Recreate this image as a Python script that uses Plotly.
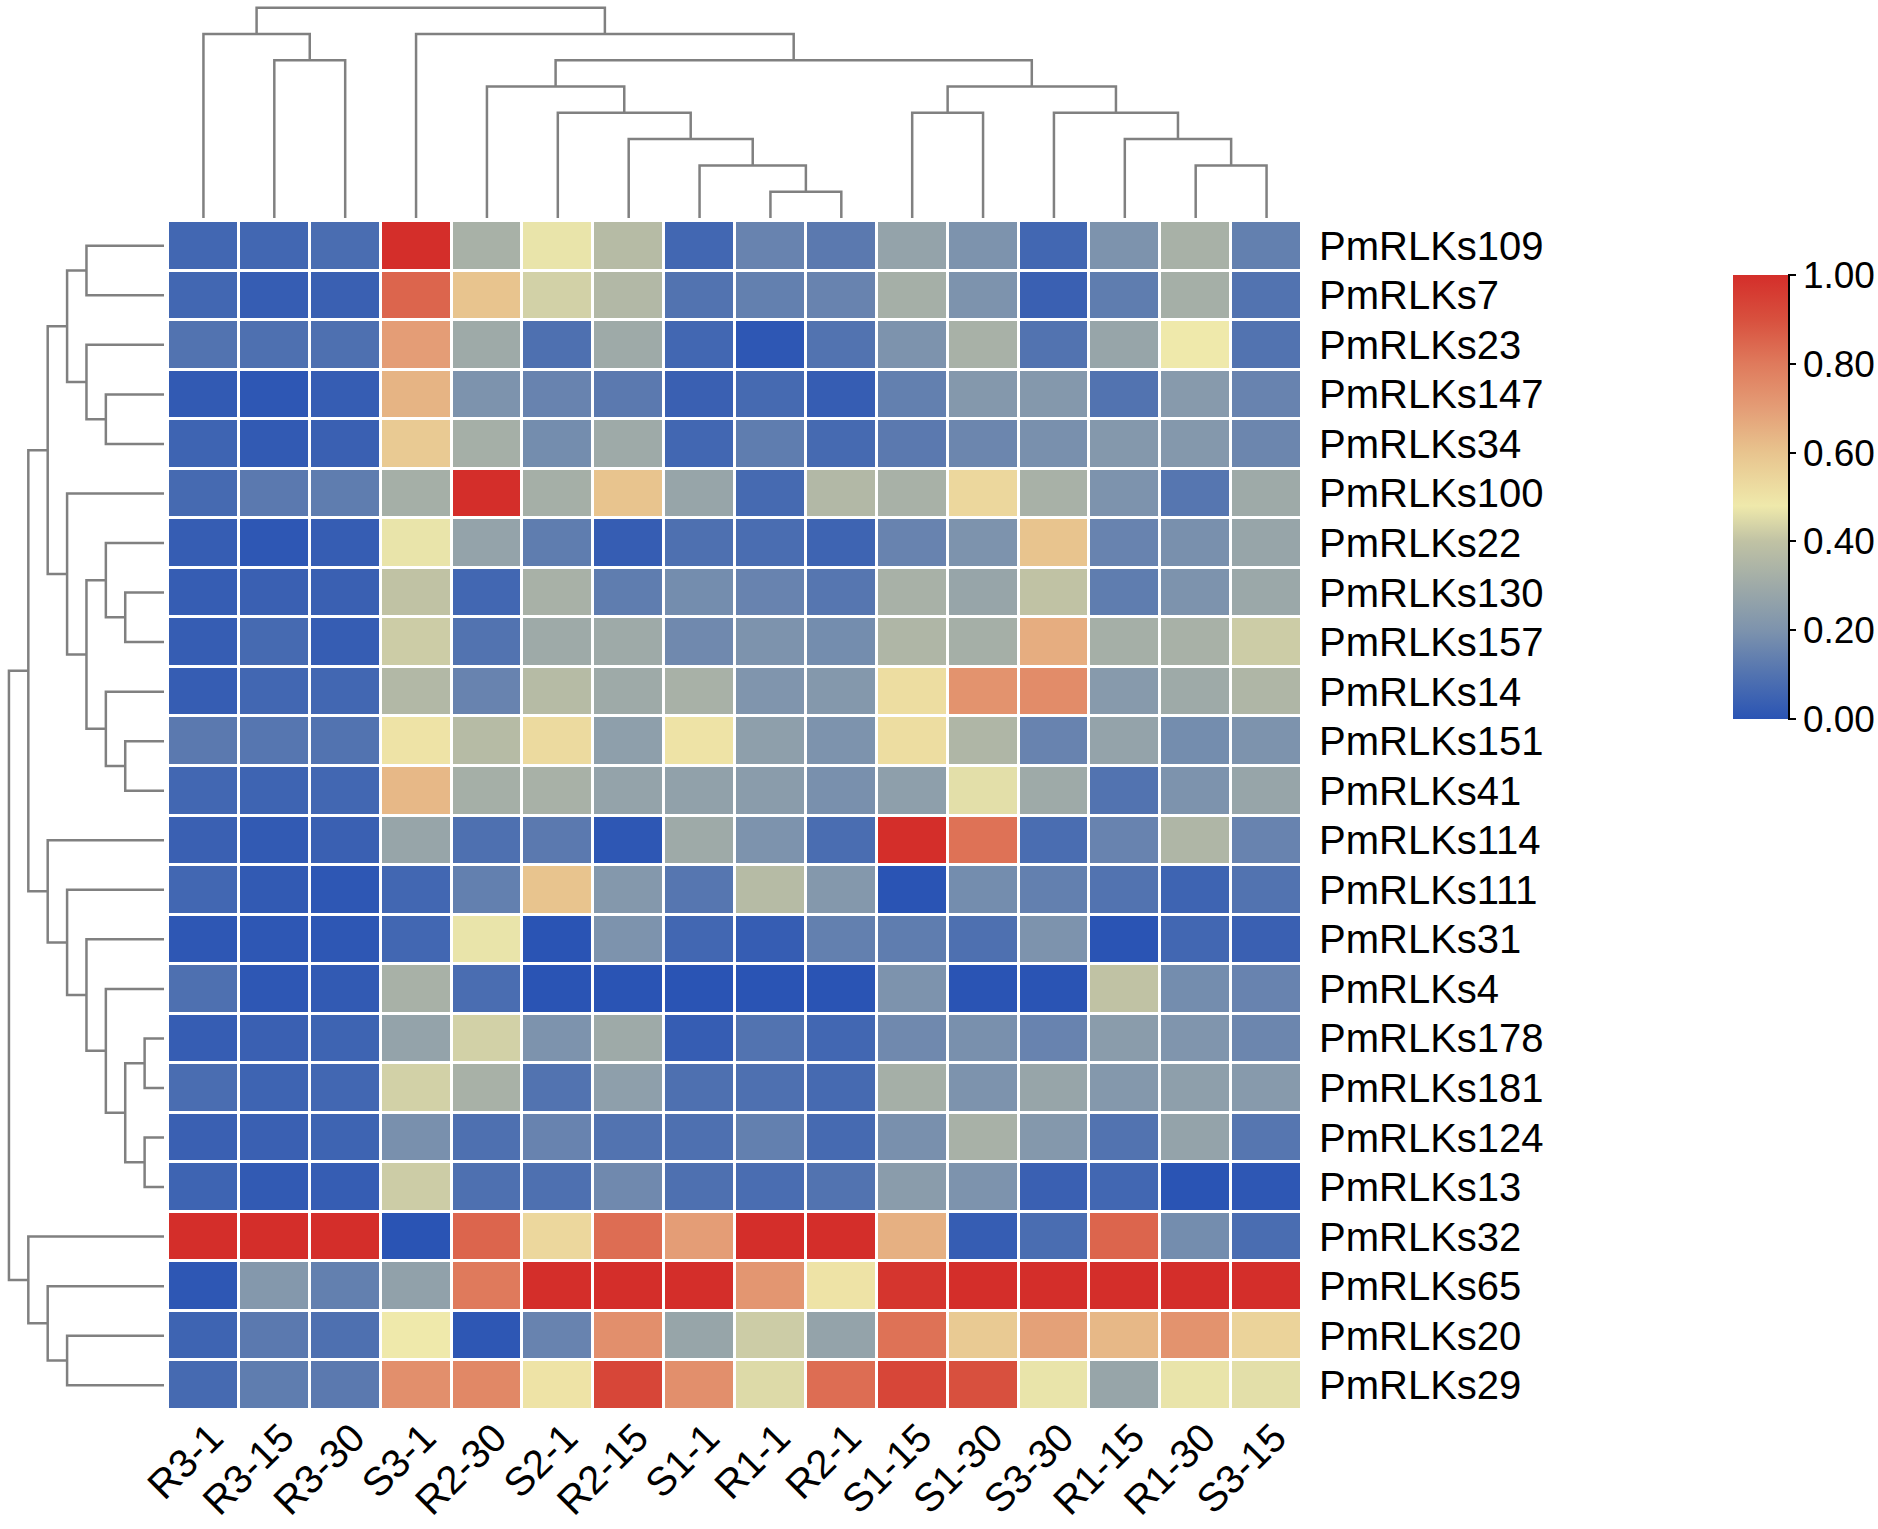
import plotly.graph_objects as go

# column and row order as in the clustered heatmap
samples = ['R3-1', 'R3-15', 'R3-30', 'S3-1', 'R2-30', 'S2-1', 'R2-15', 'S1-1',
           'R1-1', 'R2-1', 'S1-15', 'S1-30', 'S3-30', 'R1-15', 'R1-30', 'S3-15']

genes = ['PmRLKs109', 'PmRLKs7', 'PmRLKs23', 'PmRLKs147', 'PmRLKs34', 'PmRLKs100',
         'PmRLKs22', 'PmRLKs130', 'PmRLKs157', 'PmRLKs14', 'PmRLKs151', 'PmRLKs41',
         'PmRLKs114', 'PmRLKs111', 'PmRLKs31', 'PmRLKs4', 'PmRLKs178', 'PmRLKs181',
         'PmRLKs124', 'PmRLKs13', 'PmRLKs32', 'PmRLKs65', 'PmRLKs20', 'PmRLKs29']

# normalised expression, one row per gene
values = [
    [0.06, 0.06, 0.08, 1.00, 0.33, 0.47, 0.37, 0.06, 0.15, 0.12, 0.27, 0.20, 0.06, 0.20, 0.33, 0.14],
    [0.06, 0.03, 0.04, 0.85, 0.60, 0.43, 0.36, 0.10, 0.14, 0.15, 0.32, 0.20, 0.04, 0.13, 0.32, 0.10],
    [0.10, 0.09, 0.09, 0.70, 0.30, 0.09, 0.30, 0.06, 0.01, 0.10, 0.20, 0.33, 0.10, 0.28, 0.48, 0.10],
    [0.02, 0.01, 0.03, 0.64, 0.20, 0.15, 0.12, 0.04, 0.07, 0.03, 0.14, 0.22, 0.22, 0.10, 0.23, 0.15],
    [0.05, 0.02, 0.04, 0.58, 0.32, 0.18, 0.30, 0.06, 0.13, 0.07, 0.12, 0.16, 0.19, 0.22, 0.22, 0.16],
    [0.07, 0.12, 0.13, 0.32, 1.00, 0.32, 0.60, 0.28, 0.07, 0.36, 0.33, 0.54, 0.33, 0.20, 0.11, 0.30],
    [0.03, 0.01, 0.03, 0.47, 0.27, 0.13, 0.03, 0.09, 0.08, 0.05, 0.15, 0.20, 0.60, 0.15, 0.19, 0.28],
    [0.03, 0.04, 0.04, 0.40, 0.06, 0.33, 0.13, 0.18, 0.15, 0.11, 0.33, 0.28, 0.40, 0.13, 0.20, 0.29],
    [0.03, 0.07, 0.03, 0.42, 0.10, 0.30, 0.30, 0.17, 0.20, 0.18, 0.35, 0.32, 0.66, 0.32, 0.33, 0.42],
    [0.03, 0.06, 0.06, 0.36, 0.15, 0.37, 0.30, 0.33, 0.21, 0.22, 0.52, 0.73, 0.75, 0.23, 0.30, 0.35],
    [0.12, 0.11, 0.10, 0.50, 0.37, 0.53, 0.25, 0.50, 0.25, 0.20, 0.52, 0.35, 0.15, 0.27, 0.18, 0.20],
    [0.06, 0.05, 0.06, 0.63, 0.32, 0.33, 0.27, 0.26, 0.24, 0.19, 0.25, 0.46, 0.30, 0.10, 0.20, 0.28],
    [0.04, 0.02, 0.04, 0.28, 0.09, 0.12, 0.01, 0.30, 0.20, 0.08, 1.00, 0.82, 0.08, 0.15, 0.35, 0.15],
    [0.06, 0.02, 0.01, 0.06, 0.14, 0.60, 0.22, 0.11, 0.37, 0.22, 0.00, 0.18, 0.14, 0.10, 0.05, 0.10],
    [0.01, 0.01, 0.01, 0.06, 0.47, 0.00, 0.20, 0.06, 0.03, 0.14, 0.13, 0.09, 0.20, 0.00, 0.06, 0.04],
    [0.09, 0.01, 0.02, 0.33, 0.08, 0.00, 0.00, 0.00, 0.00, 0.00, 0.20, 0.00, 0.00, 0.40, 0.18, 0.15],
    [0.03, 0.04, 0.05, 0.27, 0.43, 0.20, 0.30, 0.03, 0.10, 0.06, 0.17, 0.19, 0.15, 0.24, 0.21, 0.16],
    [0.08, 0.05, 0.06, 0.43, 0.33, 0.10, 0.25, 0.09, 0.09, 0.07, 0.32, 0.20, 0.28, 0.22, 0.25, 0.23],
    [0.04, 0.04, 0.05, 0.19, 0.09, 0.15, 0.10, 0.09, 0.14, 0.07, 0.19, 0.33, 0.22, 0.10, 0.27, 0.11],
    [0.05, 0.02, 0.03, 0.42, 0.09, 0.09, 0.17, 0.09, 0.08, 0.10, 0.24, 0.20, 0.04, 0.06, 0.00, 0.01],
    [1.00, 1.00, 1.00, 0.00, 0.85, 0.54, 0.83, 0.70, 1.00, 1.00, 0.65, 0.03, 0.08, 0.85, 0.18, 0.08],
    [0.01, 0.22, 0.14, 0.26, 0.80, 1.00, 1.00, 1.00, 0.72, 0.50, 0.98, 1.00, 1.00, 1.00, 1.00, 1.00],
    [0.05, 0.12, 0.09, 0.48, 0.01, 0.15, 0.74, 0.28, 0.42, 0.27, 0.82, 0.58, 0.69, 0.63, 0.73, 0.55],
    [0.07, 0.13, 0.12, 0.74, 0.76, 0.50, 0.93, 0.74, 0.45, 0.83, 0.93, 0.90, 0.47, 0.28, 0.47, 0.46],
]

# dendrogram merges (left, right, level), new clusters numbered after the leaves
col_merges = [(8, 9, 1), (7, 16, 2), (6, 17, 3), (5, 18, 4), (4, 19, 5), (1, 2, 6),
              (14, 15, 2), (13, 22, 3), (12, 23, 4), (10, 11, 4), (25, 24, 5),
              (20, 26, 6), (3, 27, 7), (0, 21, 7), (29, 28, 8)]

row_merges = [(0, 1, 4), (3, 4, 3), (2, 25, 4), (24, 26, 5), (7, 8, 2), (6, 28, 3),
              (10, 11, 2), (9, 30, 3), (29, 31, 4), (5, 32, 5), (27, 33, 6),
              (16, 17, 1), (18, 19, 1), (35, 36, 2), (15, 37, 3), (14, 38, 4),
              (13, 39, 5), (12, 40, 6), (34, 41, 7), (22, 23, 5), (21, 43, 6),
              (20, 44, 7), (42, 45, 8)]

colorscale = [[0.0, '#2a54b4'], [0.1, '#5273b0'], [0.2, '#7d93ad'], [0.3, '#9eaaa8'],
              [0.4, '#c0c2a4'], [0.48, '#efe9ab'], [0.6, '#e8c48e'], [0.7, '#e49d76'],
              [0.8, '#df7a5c'], [0.9, '#d8503e'], [1.0, '#d42e2a']]


def dendro_lines(merges, n):
    pos = {i: float(i) for i in range(n)}
    lev = {i: 0.0 for i in range(n)}
    a_pts, b_pts = [], []
    k = n
    for a, b, h in merges:
        a_pts += [pos[a], pos[a], pos[b], pos[b], None]
        b_pts += [lev[a], h, h, lev[b], None]
        pos[k] = (pos[a] + pos[b]) / 2
        lev[k] = h
        k += 1
    return a_pts, b_pts


W, H = 1878, 1529
hx0, hx1 = 168 / W, 1302 / W
hy0, hy1 = 1 - 1410 / H, 1 - 221 / H

fig = go.Figure()

fig.add_trace(go.Heatmap(
    z=values, x=samples, y=genes,
    zmin=0, zmax=1, colorscale=colorscale,
    xgap=3, ygap=3,
    colorbar=dict(
        x=1733 / W, xanchor='left', y=1 - 497 / H, yanchor='middle',
        thickness=55, thicknessmode='pixels', len=444, lenmode='pixels',
        xpad=0, ypad=0, outlinewidth=0,
        tickvals=[0, 0.2, 0.4, 0.6, 0.8, 1.0], tickformat='.2f',
        ticks='outside', ticklen=8, tickwidth=2, tickcolor='black',
        tickfont=dict(size=37, color='black'),
    ),
))

cx, cy = dendro_lines(col_merges, len(samples))
fig.add_trace(go.Scatter(x=cx, y=cy, mode='lines', xaxis='x2', yaxis='y2',
                         line=dict(color='#808080', width=2.5), hoverinfo='skip',
                         showlegend=False))

ry, rx = dendro_lines(row_merges, len(genes))
fig.add_trace(go.Scatter(x=rx, y=ry, mode='lines', xaxis='x3', yaxis='y3',
                         line=dict(color='#808080', width=2.5), hoverinfo='skip',
                         showlegend=False))

# black axis line on the right of the colour bar
fig.add_shape(type='line', xref='paper', yref='paper',
              x0=1789 / W, x1=1789 / W, y0=1 - 719 / H, y1=1 - 275 / H,
              line=dict(color='black', width=2))

fig.update_layout(
    width=W, height=H,
    margin=dict(l=0, r=0, t=0, b=0, autoexpand=False),
    paper_bgcolor='white', plot_bgcolor='white',
    font=dict(family='Liberation Sans, Arial', color='black', size=40),
    xaxis=dict(domain=[hx0, hx1], tickangle=-45, showgrid=False, zeroline=False,
               automargin=False, ticks='', ticklabelstandoff=-5, ticklabelshift=8,
               tickfont=dict(size=40)),
    yaxis=dict(domain=[hy0, hy1], autorange='reversed', side='right', showgrid=False,
               automargin=False, zeroline=False, ticks='', ticklabelstandoff=16,
               tickfont=dict(size=40)),
    xaxis2=dict(domain=[hx0, hx1], anchor='y2', range=[-0.5, 15.5], visible=False),
    yaxis2=dict(domain=[1 - 218 / H, 1 - 5 / H], anchor='x2', range=[0, 8.1], visible=False),
    xaxis3=dict(domain=[7 / W, 164 / W], anchor='y3', range=[8.1, 0], visible=False),
    yaxis3=dict(domain=[hy0, hy1], anchor='x3', range=[23.5, -0.5], visible=False),
)

# drop the default page margin so the figure sits at the window corner
fig.write_html("out.html", config={'displayModeBar': False},
               post_script="document.body.style.margin='0';")
